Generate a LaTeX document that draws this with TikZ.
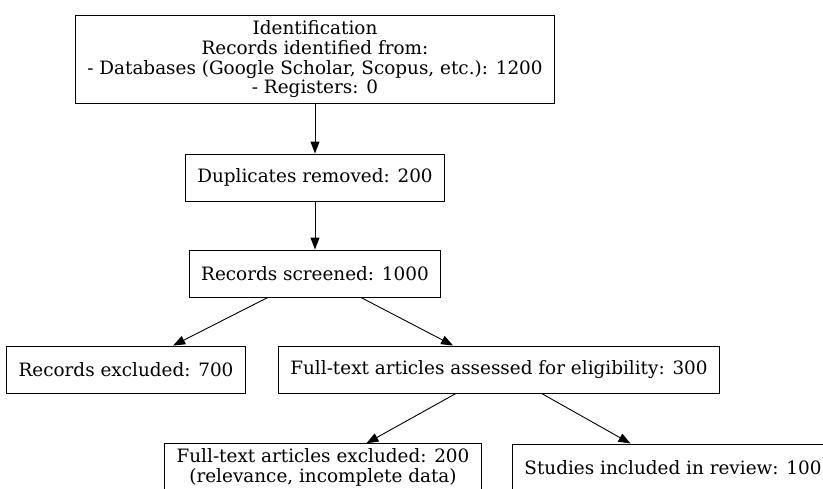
\documentclass[tikz,border=0pt]{standalone}
\usepackage{fontspec}
\setmainfont{DejaVu Serif}
\usetikzlibrary{arrows.meta}
\begin{document}
\begin{tikzpicture}[x=1pt, y=-1pt]
\tikzset{etape/.style={draw, rectangle, align=center, line width=0.9pt, inner xsep=12pt, inner ysep=5pt, minimum height=47pt, font=\fontsize{18.4}{19.7}\selectfont}}
\tikzset{fleche/.style={-{Triangle[length=12pt, width=9pt]}, line width=0.9pt}}
\clip (0, 0) rectangle (823, 488);
\fill[white] (0, 0) rectangle (823, 488);
\node[etape] (E1) at (315, 59.5) {Identification\\Records identified from:\\- Databases (Google Scholar, Scopus, etc.): 1200\\- Registers: 0};
\node[etape] (E2) at (315, 177.5) {Duplicates removed: 200};
\node[etape] (E3) at (315, 273.5) {Records screened: 1000};
\node[etape] (E4) at (126, 369.5) {Records excluded: 700};
\node[etape] (E5) at (499, 369.5) {Full-text articles assessed for eligibility: 300};
\node[etape] (E6) at (323, 467.5) {Full-text articles excluded: 200\\(relevance, incomplete data)};
\node[etape] (E7) at (673, 467.5) {Studies included in review: 100};
\draw[fleche] (E1) -- (E2);
\draw[fleche] (E2) -- (E3);
\draw[fleche] (E3) -- (E4);
\draw[fleche] (E3) -- (E5);
\draw[fleche] (E5) -- (E6);
\draw[fleche] (E5) -- (E7);
\end{tikzpicture}
\end{document}
